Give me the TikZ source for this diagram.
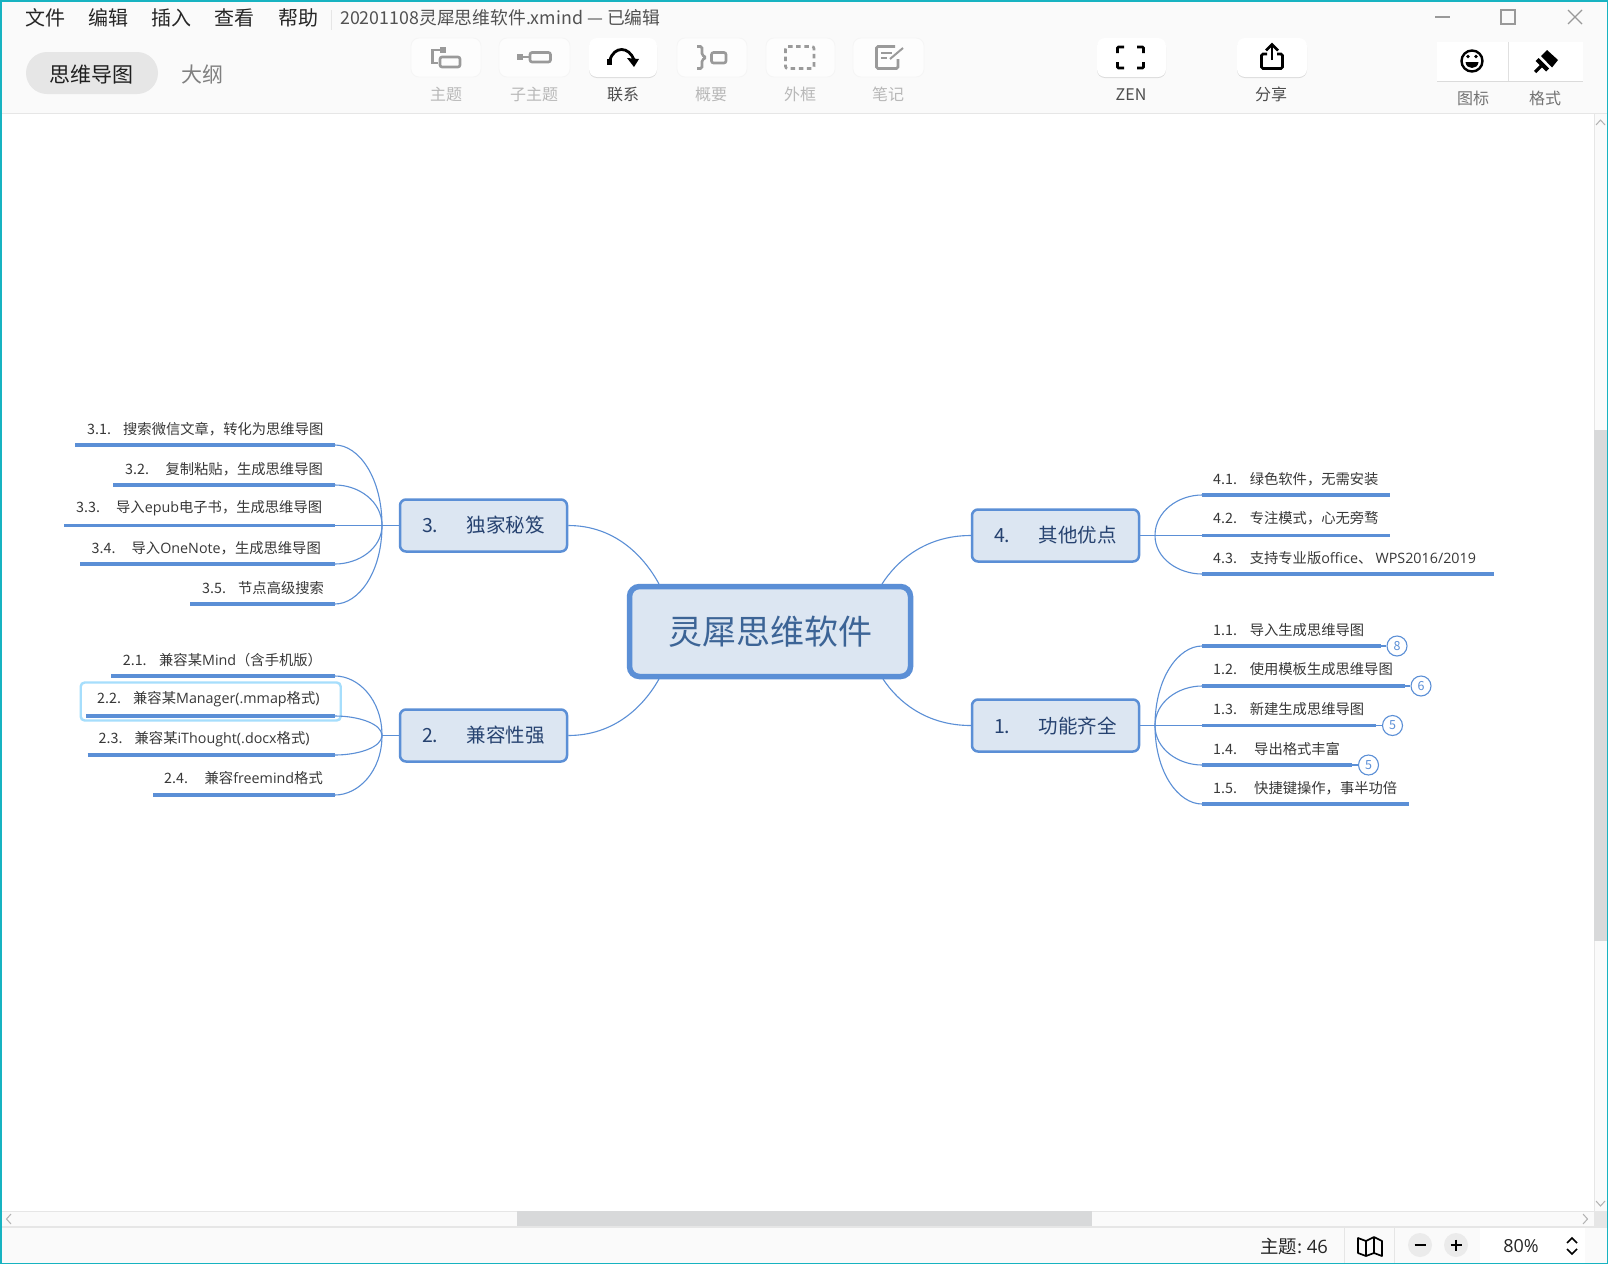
\documentclass[tikz,border=0pt]{standalone}
\usepackage{fontspec}
\setmainfont{Noto Sans CJK SC}
\newfontfamily\lat{Open Sans}
\usetikzlibrary{calc,arrows.meta}
\definecolor{xb}{HTML}{5B8FD6}
\definecolor{xfill}{HTML}{DCE6F2}
\definecolor{teal0}{HTML}{17B3C1}
\definecolor{barbg}{HTML}{FAFAFA}
\definecolor{sepc}{HTML}{E6E6E6}
\definecolor{icong}{HTML}{9A9A9A}
\definecolor{thumb}{HTML}{D8D9DA}
\newcommand{\fs}[1]{\fontsize{#1}{#1}\selectfont}
\newcommand{\conn}[2]{\draw[connline] (#1) .. controls ($(#1)!0.6!(#1|-#2)$) and ($(#2)!0.5!(#1|-#2)$) .. (#2);}
\newcommand{\mconn}[2]{\coordinate (tmpc) at ($(#1|-#2)!.35!(#2)$);
  \draw[connline] (#1) .. controls ($(#1)!0.5!(tmpc)$) and ($(#2)!0.5!(#1|-#2)$) .. (#2);}
\newcommand{\sub}[6]{% name, x, y, gap, number, title
  \node[subt] (#1) at (#2,#3) {\makebox[#4pt][l]{#5}#6};}
\newcommand{\ul}[4]{% name, x1, x2, y
  \coordinate (#1a) at (#2,#4); \coordinate (#1b) at (#3,#4);
  \draw[uline] (#1a) -- (#1b);}
\tikzset{
  x=1pt,y=-1pt,
  connline/.style={xb,line width=1.1pt},
  uline/.style={xb,line width=3.4pt},
  subt/.style={anchor=west,inner sep=0pt,text=black!78,font=\fs{14.3}},
  branch/.style={draw=xb,line width=2.5pt,fill=xfill,rounded corners=6pt,minimum width=167pt,minimum height=52pt,inner sep=0pt,font=\fs{19.5}},
  branchtxt/.style={text={rgb,255:red,38;green,66;blue,112}},
  centre/.style={draw=xb,line width=5.5pt,fill=xfill,rounded corners=10pt,minimum width=281pt,minimum height=90pt,inner sep=0pt,text={rgb,255:red,60;green,100;blue,150},font=\fs{34}},
  numc/.style={circle,draw=xb,line width=1.1pt,fill=white,minimum size=20pt,inner sep=0pt,text=xb,font=\fs{12.5}},
  tb/.style={rounded corners=8pt,fill=white},
  tboff/.style={rounded corners=8pt,fill=white!60!barbg,draw=black!4,line width=.8pt},
  tbshadow/.style={rounded corners=8pt,fill=black!14},
  lab/.style={inner sep=0pt,font=\fs{16}},
  menu/.style={inner sep=0pt,anchor=west,font=\fs{20},text=black!85},
  ic/.style={icong,line width=2.6pt},
  ick/.style={black,line width=2.8pt},
}
\begin{document}
\begin{tikzpicture}
\useasboundingbox (0,0) rectangle (1615,1264);
\fill[white] (0,0) rectangle (1615,1264);
% toolbar band
\fill[barbg] (0,0) rectangle (1608,113);
\draw[sepc,line width=1.2pt] (0,113.5) -- (1608,113.5);
% menu
\node[menu] (m1) at (25,18) {文件};
\node[menu] (m2) at (88,18) {编辑};
\node[menu] (m3) at (151,18) {插入};
\node[menu] (m4) at (214,18) {查看};
\node[menu] (m5) at (278,18) {帮助};
\draw[sepc,line width=1pt] (331,10) -- (331,30);
\node[menu,font=\fs{17.8},text=black!68] (title) at (340,18) {20201108灵犀思维软件.xmind — 已编辑};
% view tabs
\fill[sepc,rounded corners=21pt] (26,52) rectangle (158,94);
\node[inner sep=0pt,font=\fs{21},text=black!88] (tabmap) at (91,74.5) {思维导图};
\node[inner sep=0pt,font=\fs{21},text=black!50] (tabout) at (202,74.5) {大纲};
% toolbar buttons
\foreach \a/\b in {411/481,499/570,677/747,766/835,853/924}{
  \draw[tboff] (\a,38) rectangle (\b,77);}
\foreach \a/\b in {589/657,1097/1166,1237/1307}{
  \fill[tbshadow] (\a,39.5) rectangle (\b,78);
  \fill[tb] (\a,38) rectangle (\b,77);}
\fill[black!14] (1437,43) rectangle (1583,82);
\fill[white] (1437,42) rectangle (1583,81);
\draw[black!12,line width=1pt] (1508,42) -- (1508,81);
% labels
\node[lab,text=black!28] (l1) at (446,94.5) {主题};
\node[lab,text=black!28] (l2) at (534,94.5) {子主题};
\node[lab,text=black!70] (l3) at (623,94.5) {联系};
\node[lab,text=black!28] (l4) at (711,94.5) {概要};
\node[lab,text=black!28] (l5) at (800,94.5) {外框};
\node[lab,text=black!28] (l6) at (888,94.5) {笔记};
\node[lab,text=black!70] (l7) at (1131,94.5) {ZEN};
\node[lab,text=black!70] (l8) at (1271,94.5) {分享};
\node[lab,text=black!55] (l9) at (1473,98) {图标};
\node[lab,text=black!55] (l10) at (1545,98) {格式};
% topic icon
\fill[icong] (440,47) rectangle (446,53);
\draw[ic] (440,50) -- (432.5,50) -- (432.5,63) -- (438,63);
\draw[ic,rounded corners=2pt] (440,57) rectangle (460,67);
% subtopic icon
\fill[icong] (517,54) rectangle (522.5,60);
\draw[ic,line width=1.5pt] (523,57) -- (529,57);
\draw[ic,rounded corners=2pt] (530,52.5) rectangle (550.5,62);
% relationship icon
\fill[black] (606.5,59) rectangle (612,65);
\draw[black,line width=2.8pt] (610,60) .. controls (614,46) and (629,46) .. (634,60);
\fill[black] (627,58) -- (639,59) -- (634,67) -- cycle;
% summary icon
\draw[ic,rounded corners=1.5pt] (697,46.5) -- (702,46.5) -- (702,55) -- (706,57.5) -- (702,60) -- (702,68.5) -- (697,68.5);
\draw[ic,rounded corners=2pt] (711.5,52.5) rectangle (726,63);
% boundary icon
\draw[ic,rounded corners=2pt,dash pattern=on 4.5pt off 3.6pt] (785.5,46.5) rectangle (814,68.5);
% note icon
\draw[ic,rounded corners=1.5pt] (895,46.5) -- (876.5,46.5) -- (876.5,68.5) -- (898,68.5) -- (898,59);
\draw[ic,line width=2pt] (881,52.5) -- (892,52.5) (881,58) -- (887,58);
\draw[ic,line width=2pt] (890,59) -- (903,48);
% zen icon
\draw[ick,rounded corners=1pt] (1117.5,53) -- (1117.5,47) -- (1124,47);
\draw[ick,rounded corners=1pt] (1137,47) -- (1143.5,47) -- (1143.5,53);
\draw[ick,rounded corners=1pt] (1117.5,62) -- (1117.5,68) -- (1124,68);
\draw[ick,rounded corners=1pt] (1137,68) -- (1143.5,68) -- (1143.5,62);
% share icon
\draw[ick,rounded corners=1.5pt] (1267,54) -- (1261.5,54) -- (1261.5,68.5) -- (1282.5,68.5) -- (1282.5,54) -- (1277,54);
\draw[ick] (1272,60) -- (1272,46);
\draw[ick] (1266,50.5) -- (1272,44.5) -- (1278,50.5);
% smiley icon
\draw[black,line width=2.4pt] (1472,61) circle[radius=10.5];
\fill[black] (1468,56.5) circle[radius=1.9] (1476,56.5) circle[radius=1.9];
\fill[black] (1465.5,62) -- (1478.5,62) .. controls (1478,70) and (1466,70) .. cycle;
% format icon
\fill[black] (1547,50) -- (1558,60) -- (1552,67.5) -- (1541,56) -- cycle;
\fill[black] (1538.5,58) -- (1549,68.5) -- (1546,71.5) -- (1535.5,61) -- cycle;
\draw[black,line width=3.2pt] (1541,66) -- (1535,72);
% window controls
\draw[black!40,line width=1.1pt] (1435,17) -- (1450,17);
\draw[black!40,line width=1.1pt] (1501,10) rectangle (1515,24);
\draw[black!40,line width=1.1pt] (1568,10) -- (1582,24) (1582,10) -- (1568,24);
% scrollbars
\fill[barbg] (1594,114) rectangle (1608,1211);
\draw[sepc,line width=1pt] (1594,114) -- (1594,1211);
\fill[thumb] (1594,430) rectangle (1608,941);
\draw[black!30,line width=1pt] (1596,125) -- (1600.5,120) -- (1605,125);
\draw[black!30,line width=1pt] (1596,1201) -- (1600.5,1206) -- (1605,1201);
\fill[barbg] (2,1211) rectangle (1594,1226);
\draw[sepc,line width=1pt] (2,1211) -- (1594,1211);
\fill[thumb] (517,1211) rectangle (1092,1226);
\fill[sepc] (1594,1211) rectangle (1608,1226);
\draw[black!30,line width=1pt] (11,1214) -- (6.5,1219) -- (11,1224);
\draw[black!30,line width=1pt] (1583,1214) -- (1587.5,1219) -- (1583,1224);
% status bar
\fill[barbg] (0,1227) rectangle (1608,1264);
\draw[sepc,line width=1.2pt] (0,1227) -- (1608,1227);
\node[inner sep=0pt,anchor=west,font=\fs{18.4},text=black!85] (stat) at (1260,1247) {主题:{\lat\ 46}};
\draw[sepc,line width=1pt] (1344,1227) -- (1344,1263) (1394,1227) -- (1394,1263);
\draw[black,line width=1.7pt,line join=round] (1358,1238) -- (1358,1253) -- (1366,1256) -- (1374,1253) -- (1382,1256) -- (1382,1241) -- (1374,1237) -- (1366,1241) -- cycle (1366,1241) -- (1366,1256) (1374,1237) -- (1374,1253);
\fill[black!8] (1420,1245) circle[radius=12] (1456,1245) circle[radius=12];
\draw[black,line width=2pt] (1414.5,1245) -- (1425.5,1245) (1450.5,1245) -- (1461.5,1245) (1456,1239.5) -- (1456,1250.5);
\fill[white] (1480,1228) rectangle (1585,1263);
\node[inner sep=0pt,font=\fs{18}\lat,text=black!85] (zoomv) at (1521,1246) {80\%};
\draw[black,line width=1.7pt] (1567,1243) -- (1572,1238) -- (1577,1243) (1567,1249) -- (1572,1254) -- (1577,1249);
% window frame
\draw[teal0,line width=2.4pt] (1.2,1264) -- (1.2,1.2) -- (1608,1.2);
\draw[teal0,line width=1.3pt] (1607.6,0) -- (1607.6,1263.4) -- (0,1263.4);
%
% ====== mind map ======
\node[draw={rgb,255:red,166;green,222;blue,252},line width=2.4pt,rounded corners=4pt,minimum width=260pt,minimum height=38pt,inner sep=0pt] (sel) at (210.7,701.5) {};
\node[centre] (main) at (770,631.5) {灵犀思维软件};
\node[branch,branchtxt] (b3) at (483.5,525.5) {\makebox[45pt][l]{3.}独家秘笈};
\node[branch,branchtxt] (b2) at (483.5,735.5) {\makebox[45pt][l]{2.}兼容性强};
\node[branch,branchtxt] (b4) at (1055.5,535.5) {\makebox[45pt][l]{4.}其他优点};
\node[branch,branchtxt] (b1) at (1055.5,725.5) {\makebox[45pt][l]{1.}功能齐全};
\coordinate (mTL) at (659,584);
\coordinate (mBL) at (659,679);
\coordinate (mTR) at (882,584);
\coordinate (mBR) at (883,679);
\mconn{mTL}{b3.east}
\mconn{mBL}{b2.east}
\mconn{mTR}{b4.west}
\mconn{mBR}{b1.west}
\coordinate (h3) at (382,525.5);
\coordinate (h2) at (382,735.5);
\coordinate (h4) at (1155,535.5);
\coordinate (h1) at (1155,725.5);
\draw[connline] (b3.west) -- (h3);
\draw[connline] (b2.west) -- (h2);
\draw[connline] (b4.east) -- (h4);
\draw[connline] (b1.east) -- (h1);
% branch 3
\sub{s31}{87}{429}{36}{3.1.}{搜索微信文章，转化为思维导图}
\sub{s32}{125}{469}{40.4}{3.2.}{复制粘贴，生成思维导图}
\sub{s33}{76}{508.5}{40}{3.3.}{导入{\lat epub}电子书，生成思维导图}
\sub{s34}{91.5}{548}{40}{3.4.}{导入{\lat OneNote}，生成思维导图}
\sub{s35}{202}{588}{36}{3.5.}{节点高级搜索}
\ul{u31}{75}{335}{445}
\ul{u32}{113}{335}{485}
\ul{u33}{64}{335}{525.5}
\ul{u34}{80}{335}{564}
\ul{u35}{190}{335}{604}
\conn{h3}{u31b}\conn{h3}{u32b}\conn{h3}{u33b}\conn{h3}{u34b}\conn{h3}{u35b}
% branch 2
\sub{s21}{122.7}{660}{36.3}{2.1.}{兼容某{\lat Mind}（含手机版）}
\sub{s22}{97}{699.5}{36}{2.2.}{兼容某{\lat Manager(.mmap}格式{\lat )}}
\sub{s23}{98.5}{739.5}{36}{2.3.}{兼容某{\lat iThought(.docx}格式{\lat )}}
\sub{s24}{164}{778}{40.5}{2.4.}{兼容{\lat freemind}格式}
\ul{u21}{111}{335}{676}
\ul{u22}{86}{335}{716}
\ul{u23}{87.5}{335}{755}
\ul{u24}{153}{335}{795}
\conn{h2}{u21b}\conn{h2}{u22b}\conn{h2}{u23b}\conn{h2}{u24b}
% branch 4
\sub{s41}{1213}{479}{36.6}{4.1.}{绿色软件，无需安装}
\sub{s42}{1213}{518}{36.6}{4.2.}{专注模式，心无旁骛}
\sub{s43}{1213}{558.5}{36.6}{4.3.}{支持专业版{\lat office}、 {\lat WPS2016/2019}}
\ul{u41}{1202}{1390}{495}
\ul{u42}{1202}{1390}{535.5}
\ul{u43}{1202}{1494}{574}
\conn{h4}{u41a}\conn{h4}{u42a}\conn{h4}{u43a}
% branch 1
\sub{s11}{1213}{630}{36.6}{1.1.}{导入生成思维导图}
\sub{s12}{1213}{669.5}{36.6}{1.2.}{使用模板生成思维导图}
\sub{s13}{1213}{709}{36.6}{1.3.}{新建生成思维导图}
\sub{s14}{1213}{749}{41}{1.4.}{导出格式丰富}
\sub{s15}{1213}{788}{41}{1.5.}{快捷键操作，事半功倍}
\ul{u11}{1202}{1381}{646}
\ul{u12}{1202}{1405}{686}
\ul{u13}{1202}{1376}{725.5}
\ul{u14}{1202}{1352}{765}
\ul{u15}{1202}{1409}{804}
\conn{h1}{u11a}\conn{h1}{u12a}\conn{h1}{u13a}\conn{h1}{u14a}\conn{h1}{u15a}
% task counts
\node[numc] (c11) at (1397,646) {8};
\node[numc] (c12) at (1421,686) {6};
\node[numc] (c13) at (1392.5,725.5) {5};
\node[numc] (c14) at (1368.5,765) {5};
\draw[connline] (u11b) -- (c11);
\draw[connline] (u12b) -- (c12);
\draw[connline] (u13b) -- (c13);
\draw[connline] (u14b) -- (c14);
\end{tikzpicture}
\end{document}
